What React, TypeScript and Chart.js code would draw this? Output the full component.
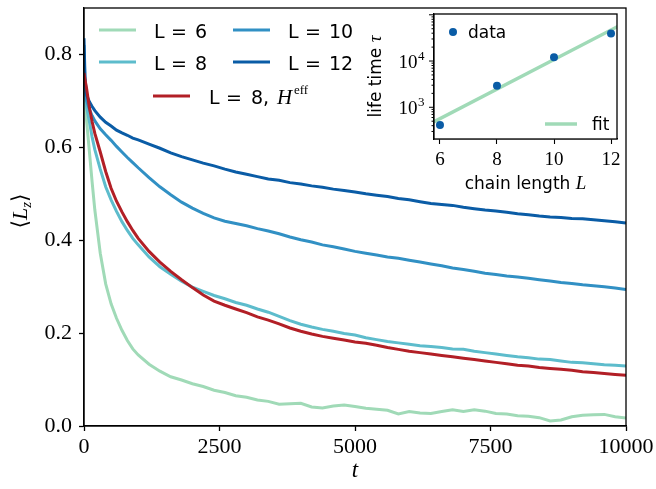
import React, { useEffect, useRef } from "react";
import { Chart, registerables } from "chart.js";

Chart.register(...registerables);

// ---------- data (main panel) ----------
const T = [0, 20, 50, 100, 150, 200, 300, 400, 500, 600, 700, 800, 900, 1000,
  1200, 1400, 1600, 1800, 2000, 2200, 2400, 2600, 2800, 3000,
  3200, 3400, 3600, 3800, 4000, 4200, 4400, 4600, 4800, 5000,
  5200, 5400, 5600, 5800, 6000, 6200, 6400, 6600, 6800, 7000,
  7200, 7400, 7600, 7800, 8000, 8200, 8400, 8600, 8800, 9000,
  9200, 9400, 9600, 9800, 10000];

const L6 = [0.78, 0.70, 0.655, 0.59, 0.525, 0.465, 0.372, 0.306, 0.263, 0.232, 0.206, 0.184, 0.166, 0.153,
  0.133, 0.118, 0.106, 0.099, 0.091, 0.085, 0.077, 0.072, 0.065, 0.062,
  0.056, 0.053, 0.047, 0.048, 0.049, 0.041, 0.039, 0.043, 0.045, 0.042,
  0.038, 0.036, 0.034, 0.026, 0.031, 0.028, 0.027, 0.031, 0.035, 0.031,
  0.035, 0.032, 0.027, 0.026, 0.022, 0.021, 0.018, 0.011, 0.013, 0.020,
  0.023, 0.024, 0.025, 0.020, 0.017];

const L8 = [0.80, 0.71, 0.685, 0.655, 0.622, 0.595, 0.553, 0.515, 0.487, 0.462, 0.440, 0.421, 0.404, 0.390,
  0.364, 0.343, 0.327, 0.312, 0.299, 0.290, 0.281, 0.274, 0.266, 0.260,
  0.252, 0.245, 0.236, 0.227, 0.219, 0.213, 0.208, 0.204, 0.199, 0.196,
  0.190, 0.186, 0.182, 0.179, 0.176, 0.173, 0.171, 0.169, 0.166, 0.165,
  0.161, 0.158, 0.155, 0.152, 0.149, 0.147, 0.144, 0.143, 0.140, 0.137,
  0.136, 0.134, 0.132, 0.131, 0.129];

const L10 = [0.82, 0.725, 0.700, 0.682, 0.668, 0.657, 0.640, 0.627, 0.615, 0.602, 0.590, 0.578, 0.567, 0.556,
  0.535, 0.515, 0.498, 0.482, 0.469, 0.458, 0.448, 0.441, 0.436, 0.431,
  0.425, 0.420, 0.414, 0.407, 0.401, 0.396, 0.390, 0.386, 0.381, 0.376,
  0.372, 0.368, 0.364, 0.361, 0.357, 0.353, 0.349, 0.345, 0.340, 0.337,
  0.333, 0.329, 0.326, 0.323, 0.321, 0.318, 0.315, 0.312, 0.309, 0.307,
  0.304, 0.302, 0.300, 0.297, 0.294];

const L12 = [0.835, 0.745, 0.712, 0.698, 0.688, 0.679, 0.665, 0.654, 0.646, 0.637, 0.631, 0.626, 0.620, 0.616,
  0.607, 0.598, 0.588, 0.580, 0.573, 0.566, 0.560, 0.553, 0.547, 0.542,
  0.537, 0.532, 0.529, 0.524, 0.521, 0.517, 0.514, 0.510, 0.507, 0.504,
  0.500, 0.497, 0.494, 0.490, 0.487, 0.483, 0.479, 0.477, 0.475, 0.471,
  0.468, 0.465, 0.463, 0.460, 0.457, 0.455, 0.452, 0.450, 0.449, 0.447,
  0.446, 0.444, 0.442, 0.440, 0.437];

const L8_HEFF = [0.76, 0.745, 0.725, 0.685, 0.655, 0.630, 0.590, 0.548, 0.512, 0.484, 0.461, 0.440, 0.421, 0.404,
  0.376, 0.353, 0.333, 0.315, 0.298, 0.282, 0.269, 0.260, 0.252, 0.244,
  0.235, 0.228, 0.220, 0.211, 0.204, 0.198, 0.193, 0.189, 0.185, 0.181,
  0.178, 0.174, 0.169, 0.165, 0.161, 0.158, 0.155, 0.152, 0.149, 0.146,
  0.143, 0.140, 0.137, 0.134, 0.131, 0.129, 0.126, 0.124, 0.122, 0.120,
  0.117, 0.115, 0.113, 0.111, 0.109];

const X_TICKS = [0, 2500, 5000, 7500, 10000];
const Y_TICKS = [0, 0.2, 0.4, 0.6, 0.8];

// ---------- data (inset) ----------
const CHAIN_L = [6, 8, 10, 12];
const LIFE_TIME = [415, 2930, 12000, 39600];
const FIT_L = [5.7, 12.3];
const FIT_TAU = [455, 58500];
const INSET_X_TICKS = [6, 8, 10, 12];
const INSET_Y_MAJOR = [1000, 10000];

// ---------- styles ----------
const C6 = "#a0dab7";
const C8 = "#5dbccc";
const C10 = "#3190c4";
const C12 = "#0a5ca6";
const CRED = "#b21f26";
const SERIF = "'Liberation Serif', 'DejaVu Serif', serif";
const SANS = "'DejaVu Sans', sans-serif";

function zeroPad(s: any) {
  s.paddingLeft = 0;
  s.paddingRight = 0;
  s.paddingTop = 0;
  s.paddingBottom = 0;
}

function drawParts(ctx: CanvasRenderingContext2D, parts: { t: string; font: string; dy?: number; x?: number }[], x: number, y: number) {
  let cx = x;
  for (const p of parts) {
    ctx.font = p.font;
    const px = p.x !== undefined ? x + p.x : cx;
    ctx.fillText(p.t, px, y + (p.dy || 0));
    cx = px + ctx.measureText(p.t).width;
  }
}

const mainDecor = {
  id: "mainDecor",
  afterDraw(chart: any) {
    const { ctx, chartArea: a } = chart;
    ctx.save();
    ctx.strokeStyle = "#000";
    ctx.lineWidth = 1.3;
    ctx.strokeRect(a.left, a.top, a.right - a.left, a.bottom - a.top);

    ctx.fillStyle = "#000";
    ctx.textBaseline = "alphabetic";
    ctx.textAlign = "left";
    // x title
    ctx.font = `italic 23px ${SERIF}`;
    const tw = ctx.measureText("t").width;
    ctx.fillText("t", (a.left + a.right) / 2 - tw / 2, 477);

    // y title <L_z>
    ctx.save();
    ctx.translate(27, 211);
    ctx.rotate(-Math.PI / 2);
    const parts = [
      { t: "\u27E8", font: `22px 'DejaVu Serif', serif` },
      { t: "L", font: `italic 22px ${SERIF}` },
      { t: "z", font: `italic 15px ${SERIF}`, dy: 4 },
      { t: "\u27E9", font: `22px 'DejaVu Serif', serif` },
    ];
    let w = 0;
    for (const p of parts) { ctx.font = p.font; w += ctx.measureText(p.t).width; }
    drawParts(ctx, parts, -w / 2, 0);
    ctx.restore();

    // legend
    const handle = (x0: number, y: number, color: string) => {
      ctx.strokeStyle = color;
      ctx.lineWidth = 3;
      ctx.beginPath();
      ctx.moveTo(x0, y);
      ctx.lineTo(x0 + 37, y);
      ctx.stroke();
    };
    const f = `19px ${SANS}`;
    const entry = (hx: number, y: number, color: string, tx: number, num: string) => {
      handle(hx, y, color);
      ctx.fillStyle = "#000";
      drawParts(ctx, [
        { t: "L", font: f, x: 0 },
        { t: "=", font: f, x: 17 },
        { t: num, font: f, x: 41 },
      ], tx, y + 8);
    };
    entry(99, 30, C6, 154, "6");
    entry(99, 62, C8, 154, "8");
    entry(233, 30, C10, 288, "10");
    entry(233, 62, C12, 288, "12");
    handle(153, 96, CRED);
    ctx.fillStyle = "#000";
    drawParts(ctx, [
      { t: "L", font: f, x: 0 },
      { t: "=", font: f, x: 17 },
      { t: "8,", font: f, x: 42 },
      { t: "H", font: `italic 21px ${SERIF}`, x: 68 },
    ], 209, 104);
    ctx.font = `13px ${SERIF}`;
    ctx.fillText("eff", 294, 94);
    ctx.restore();
  },
};

const insetDecor = {
  id: "insetDecor",
  beforeDatasetsDraw(chart: any) {
    const { ctx, chartArea: a } = chart;
    ctx.save();
    ctx.fillStyle = "#fff";
    ctx.fillRect(a.left, a.top, a.right - a.left, a.bottom - a.top);
    ctx.restore();
  },
  afterDraw(chart: any) {
    const { ctx, chartArea: a, scales } = chart;
    const ys = scales.y;
    ctx.save();
    ctx.strokeStyle = "#000";
    ctx.lineWidth = 1.3;
    ctx.strokeRect(a.left, a.top, a.right - a.left, a.bottom - a.top);

    // log ticks on left spine
    ctx.lineWidth = 1;
    for (let e = 2; e <= 5; e++) {
      for (let m = 1; m <= 9; m++) {
        const v = m * Math.pow(10, e);
        if (v < ys.min || v > ys.max) continue;
        const py = ys.getPixelForValue(v);
        const len = m === 1 ? 5 : 2.5;
        ctx.beginPath();
        ctx.moveTo(a.left, py);
        ctx.lineTo(a.left - len, py);
        ctx.stroke();
      }
    }
    // y labels 10^3, 10^4
    ctx.fillStyle = "#000";
    ctx.textBaseline = "alphabetic";
    ctx.textAlign = "left";
    for (const v of INSET_Y_MAJOR) {
      const py = ys.getPixelForValue(v);
      const exp = String(Math.round(Math.log10(v)));
      ctx.font = `19px ${SERIF}`;
      const w1 = ctx.measureText("10").width;
      ctx.font = `13px ${SERIF}`;
      const w2 = ctx.measureText(exp).width;
      const x0 = a.left - 10 - w1 - w2;
      ctx.font = `19px ${SERIF}`;
      ctx.fillText("10", x0, py + 7);
      ctx.font = `13px ${SERIF}`;
      ctx.fillText(exp, x0 + w1 + 0.5, py - 1);
    }

    // y title
    ctx.save();
    ctx.translate(51, (a.top + a.bottom) / 2);
    ctx.rotate(-Math.PI / 2);
    const parts = [
      { t: "life time ", font: `17px ${SANS}` },
      { t: "\u03C4", font: `italic 19px ${SERIF}` },
    ];
    let w = 0;
    for (const p of parts) { ctx.font = p.font; w += ctx.measureText(p.t).width; }
    drawParts(ctx, parts, -w / 2, 0);
    ctx.restore();

    // x title
    const xparts = [
      { t: "chain length ", font: `17px ${SANS}` },
      { t: "L", font: `italic 19px ${SERIF}` },
    ];
    let xw = 0;
    for (const p of xparts) { ctx.font = p.font; xw += ctx.measureText(p.t).width; }
    drawParts(ctx, xparts, (a.left + a.right) / 2 - xw / 2, 189);

    // legend
    ctx.fillStyle = C12;
    ctx.beginPath();
    ctx.arc(123, 32, 4, 0, Math.PI * 2);
    ctx.fill();
    ctx.fillStyle = "#000";
    ctx.font = `17px ${SANS}`;
    ctx.fillText("data", 138, 38);
    ctx.strokeStyle = C6;
    ctx.lineWidth = 3.5;
    ctx.beginPath();
    ctx.moveTo(215, 124);
    ctx.lineTo(247, 124);
    ctx.stroke();
    ctx.fillText("fit", 262, 130);
    ctx.restore();
  },
};

export default function App() {
  const mainRef = useRef<HTMLCanvasElement | null>(null);
  const insetRef = useRef<HTMLCanvasElement | null>(null);

  useEffect(() => {
    const pts = (arr: number[]) => T.map((t, i) => ({ x: t, y: arr[i] }));
    const ds = (data: number[], color: string, order: number) => ({
      data: pts(data),
      borderColor: color,
      borderWidth: 3,
      pointRadius: 0,
      tension: 0,
      fill: false,
      order,
      clip: 0,
    });
    const main = new Chart(mainRef.current as HTMLCanvasElement, {
      type: "line",
      data: {
        datasets: [
          ds(L6, C6, 4),
          ds(L8, C8, 3),
          ds(L10, C10, 2),
          ds(L12, C12, 1),
          ds(L8_HEFF, CRED, 0),
        ],
      } as any,
      options: {
        responsive: false,
        animation: false,
        devicePixelRatio: 1,
        layout: { padding: { left: 0, right: 30, top: 8, bottom: 0 } },
        plugins: { legend: { display: false }, tooltip: { enabled: false } },
        scales: {
          x: {
            type: "linear",
            min: 0,
            max: 10000,
            afterBuildTicks: (s: any) => { s.ticks = X_TICKS.map((v) => ({ value: v })); },
            afterFit: (s: any) => { s.height = 63; zeroPad(s); },
            ticks: {
              font: { family: SERIF, size: 22 },
              color: "#000",
              padding: 3,
              maxRotation: 0,
              autoSkip: false,
              callback: (v: any) => String(v),
            },
            grid: { drawOnChartArea: false, drawTicks: true, tickLength: 5, tickColor: "#000", tickWidth: 1.3 },
            border: { display: true, color: "#000", width: 1.3 },
          },
          y: {
            type: "linear",
            min: 0,
            max: 0.9,
            afterBuildTicks: (s: any) => { s.ticks = Y_TICKS.map((v) => ({ value: v })); },
            afterFit: (s: any) => { s.width = 84; zeroPad(s); },
            ticks: {
              font: { family: SERIF, size: 22 },
              color: "#000",
              padding: 7,
              autoSkip: false,
              callback: (v: any) => Number(v).toFixed(1),
            },
            grid: { drawOnChartArea: false, drawTicks: true, tickLength: 5, tickColor: "#000", tickWidth: 1.3 },
            border: { display: true, color: "#000", width: 1.3 },
          },
        },
      } as any,
      plugins: [mainDecor],
    });

    const inset = new Chart(insetRef.current as HTMLCanvasElement, {
      type: "scatter",
      data: {
        datasets: [
          {
            type: "line",
            data: FIT_L.map((l, i) => ({ x: l, y: FIT_TAU[i] })),
            borderColor: C6,
            borderWidth: 3.5,
            pointRadius: 0,
            tension: 0,
            order: 1,
            clip: 0,
          },
          {
            type: "scatter",
            data: CHAIN_L.map((l, i) => ({ x: l, y: LIFE_TIME[i] })),
            backgroundColor: C12,
            borderWidth: 0,
            pointRadius: 4,
            order: 0,
            clip: false,
          },
        ],
      } as any,
      options: {
        responsive: false,
        animation: false,
        devicePixelRatio: 1,
        layout: { padding: { left: 0, right: 13, top: 14, bottom: 0 } },
        plugins: { legend: { display: false }, tooltip: { enabled: false } },
        scales: {
          x: {
            type: "linear",
            min: 5.79,
            max: 12.21,
            afterBuildTicks: (s: any) => { s.ticks = INSET_X_TICKS.map((v) => ({ value: v })); },
            afterFit: (s: any) => { s.height = 71; zeroPad(s); },
            ticks: {
              font: { family: SERIF, size: 19 },
              color: "#000",
              padding: 5,
              maxRotation: 0,
              autoSkip: false,
              callback: (v: any) => String(v),
            },
            grid: { drawOnChartArea: false, drawTicks: true, tickLength: 5, tickColor: "#000", tickWidth: 1.1 },
            border: { display: true, color: "#000", width: 1.3 },
          },
          y: {
            type: "logarithmic",
            min: 206,
            max: 104000,
            afterFit: (s: any) => { s.width = 104; zeroPad(s); },
            ticks: { display: false },
            grid: { display: false, drawTicks: false },
            border: { display: true, color: "#000", width: 1.3 },
          },
        },
      } as any,
      plugins: [insetDecor],
    });

    return () => {
      main.destroy();
      inset.destroy();
    };
  }, []);

  return (
    <div style={{ position: "absolute", left: 0, top: 0, width: 656, height: 489, background: "#fff" }}>
      <canvas ref={mainRef} width={656} height={489} style={{ position: "absolute", left: 0, top: 0 }} />
      <canvas ref={insetRef} width={300} height={210} style={{ position: "absolute", left: 330, top: 0 }} />
    </div>
  );
}
